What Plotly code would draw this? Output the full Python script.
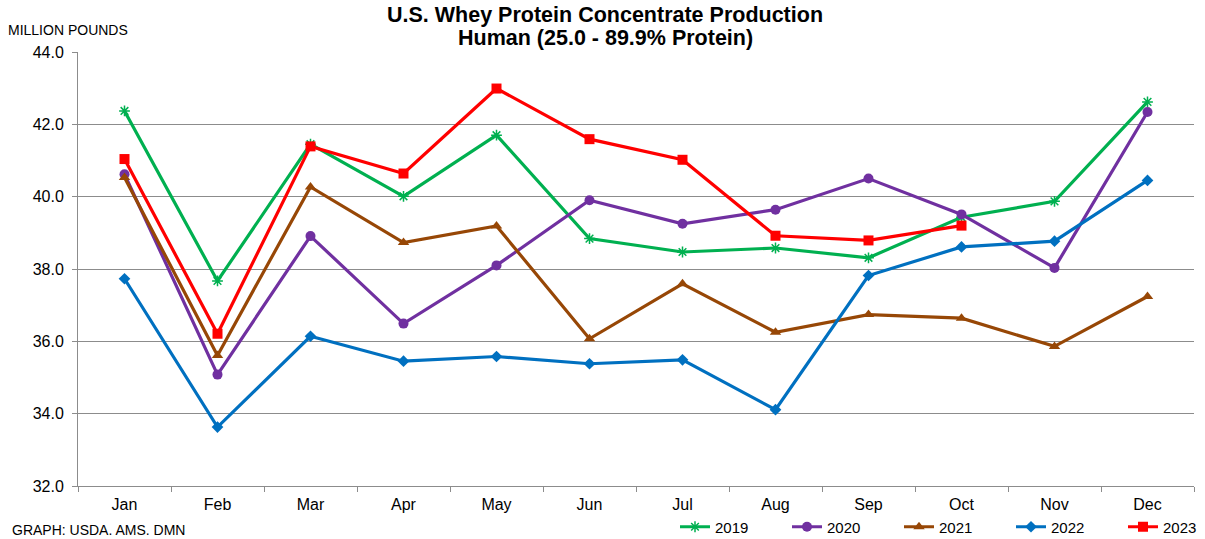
import plotly.graph_objects as go

months = ["Jan", "Feb", "Mar", "Apr", "May", "Jun", "Jul", "Aug", "Sep", "Oct", "Nov", "Dec"]
y2019 = [42.37, 37.67, 41.45, 40.01, 41.70, 38.84, 38.47, 38.58, 38.31, 39.43, 39.87, 42.62]
y2020 = [40.62, 35.08, 38.91, 36.49, 38.10, 39.90, 39.25, 39.64, 40.50, 39.51, 38.03, 42.34]
y2021 = [40.53, 35.61, 40.27, 38.73, 39.19, 36.07, 37.59, 36.25, 36.74, 36.64, 35.86, 37.24]
y2022 = [37.73, 33.63, 36.14, 35.45, 35.58, 35.38, 35.49, 34.11, 37.82, 38.61, 38.77, 40.45]
y2023 = [41.04, 36.21, 41.39, 40.64, 42.99, 41.59, 41.02, 38.92, 38.79, 39.20]
y_ticks = [32.0, 34.0, 36.0, 38.0, 40.0, 42.0, 44.0]

series = [
    ("2019", y2019, "#00B050", "asterisk-open", 9),
    ("2020", y2020, "#7030A0", "circle", 10),
    ("2021", y2021, "#974706", "triangle-up", 10),
    ("2022", y2022, "#0070C0", "diamond", 9),
    ("2023", y2023, "#FF0000", "square", 10),
]

W, H = 1205, 539
L, R, T, B = 78, 11, 52, 53
plot_h = H - T - B
plot_w = W - L - R

def px_y(y):
    return (H - B - y) / plot_h

def px_x(x):
    return (x - L) / plot_w

fig = go.Figure()
for name, vals, color, sym, size in series:
    fig.add_trace(go.Scatter(
        x=months[:len(vals)], y=vals, name=name, mode="lines+markers",
        line=dict(color=color, width=3.2),
        marker=dict(symbol=sym, size=size, color=color,
                    line=dict(color=color, width=1.5 if sym == "asterisk-open" else 0)),
    ))

fig.update_layout(
    width=W, height=H,
    margin=dict(l=L, r=R, t=T, b=B, autoexpand=False),
    paper_bgcolor="white", plot_bgcolor="white",
    font=dict(family="Arial, Liberation Sans, sans-serif", color="#000000", size=16),
    showlegend=True,
    legend=dict(
        orientation="h", x=675 / W, xanchor="left", xref="container",
        y=1 - 527 / H, yanchor="middle", yref="container",
        font=dict(size=15), entrywidth=67, entrywidthmode="pixels",
        itemwidth=30, bgcolor="rgba(0,0,0,0)", tracegroupgap=0,
    ),
    annotations=[
        dict(text="<b>U.S. Whey Protein Concentrate Production</b>", x=px_x(605),
             xref="paper", xanchor="center", y=px_y(15), yref="paper", yanchor="middle",
             showarrow=False, font=dict(size=21.5)),
        dict(text="<b>Human (25.0 - 89.9% Protein)</b>", x=px_x(605),
             xref="paper", xanchor="center", y=px_y(38), yref="paper", yanchor="middle",
             showarrow=False, font=dict(size=21.5)),
        dict(text="MILLION POUNDS", x=px_x(6), xref="paper", xanchor="left",
             y=px_y(30), yref="paper", yanchor="middle",
             showarrow=False, font=dict(size=14)),
        dict(text="GRAPH: USDA. AMS. DMN", x=px_x(10), xref="paper", xanchor="left",
             y=px_y(530), yref="paper", yanchor="middle",
             showarrow=False, font=dict(size=14)),
    ],
)

fig.update_xaxes(
    type="category", categoryorder="array", categoryarray=months,
    range=[-0.5, 11.5], tickson="boundaries", ticks="outside", ticklen=5,
    tickcolor="#8c8c8c", showgrid=False, showline=True, linecolor="#8c8c8c",
    linewidth=1, tickfont=dict(size=16), zeroline=False, automargin=False,
    ticklabelstandoff=4,
)
fig.update_yaxes(
    range=[32, 44], tickvals=y_ticks, ticktext=[f"{v:.1f}" for v in y_ticks],
    ticks="outside", ticklen=5, tickcolor="#8c8c8c",
    showgrid=True, gridcolor="#8c8c8c", gridwidth=1,
    showline=True, linecolor="#8c8c8c", linewidth=1, zeroline=False,
    tickfont=dict(size=16), automargin=False, ticklabelstandoff=5,
)

fig.write_html(
    "out.html",
    config={"displayModeBar": False},
    post_script="document.body.style.margin='0';document.body.style.padding='0';",
)
